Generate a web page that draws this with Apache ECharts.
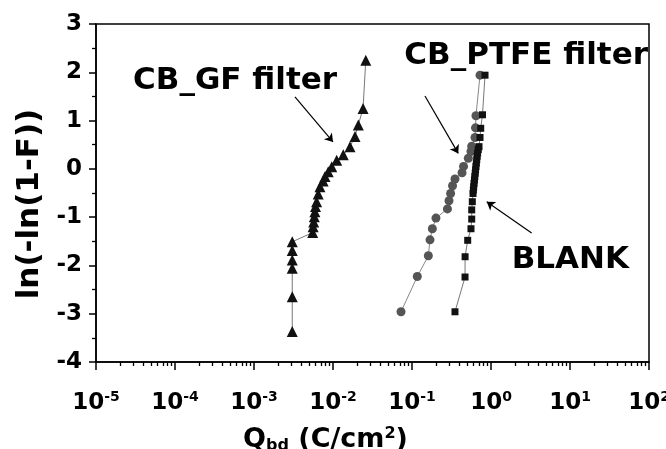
<!DOCTYPE html>
<html>
<head>
<meta charset="utf-8">
<script src="https://cdn.jsdelivr.net/npm/echarts@6/dist/echarts.min.js"></script>
<style>html,body{margin:0;padding:0;background:#fff}#c{width:666px;height:449px}</style>
</head>
<body>
<div id="c"></div>
<script>
// ---- data ----
const gfX = [0.00305,0.00305,0.00305,0.00305,0.00305,0.00305,0.00553,0.0056,0.0057,0.0058,0.0059,0.006,0.0062,0.0065,0.00684,0.0075,0.00792,0.0087,0.00964,0.01114,0.01349,0.0164,0.019,0.0209,0.024,0.026];
const gfY = [-3.37,-2.65,-2.06,-1.89,-1.69,-1.51,-1.32,-1.20,-1.10,-0.99,-0.89,-0.78,-0.68,-0.52,-0.37,-0.25,-0.16,-0.06,0.045,0.18,0.29,0.46,0.67,0.91,1.25,2.25];

const ptfeX = [0.0726,0.1167,0.161,0.169,0.181,0.201,0.281,0.294,0.308,0.326,0.35,0.43,0.449,0.516,0.558,0.57,0.627,0.636,0.645,0.726];
const ptfeY = [-2.96,-2.23,-1.80,-1.47,-1.24,-1.02,-0.83,-0.66,-0.51,-0.35,-0.21,-0.08,0.05,0.22,0.36,0.47,0.65,0.85,1.10,1.94];

const blankX = [0.35,0.469,0.47,0.507,0.558,0.57,0.57,0.58,0.592,0.598,0.604,0.61,0.617,0.624,0.631,0.638,0.645,0.652,0.66,0.668,0.677,0.69,0.705,0.726,0.741,0.78,0.84];
const blankY = [-2.96,-2.24,-1.82,-1.48,-1.24,-1.04,-0.85,-0.68,-0.51,-0.44,-0.37,-0.30,-0.23,-0.16,-0.09,-0.02,0.05,0.12,0.19,0.26,0.33,0.40,0.46,0.65,0.84,1.12,1.94];

const yTicks = [-4,-3,-2,-1,0,1,2,3];
const xDecades = [-5,-4,-3,-2,-1,0,1,2];

// annotations (data coordinates)
const labelGF = {text:'CB_GF filter', at:[0.01125,1.82], align:'right'};
const labelPTFE = {text:'CB_PTFE filter', at:[0.08,2.34], align:'left'};
const labelBLANK = {text:'BLANK', at:[1.83,-1.88], align:'left'};
const arrowGF = [[0.0033,1.49],[0.0100,0.557]];
const arrowPTFE = [[0.146,1.51],[0.385,0.32]];
const arrowBLANK = [[3.27,-1.33],[0.883,-0.68]];

// ---- build ----
const zip = (a,b) => a.map((v,i)=>[v,b[i]]);
const minorVals = [];
for (let d = -5; d < 2; d++) for (let m = 2; m <= 9; m++) minorVals.push(m*Math.pow(10,d));

const FONT = '"DejaVu Sans", sans-serif';
const arrowLine = (seg) => ({
  silent: true, symbol: ['none','arrow'], symbolSize: 8,
  lineStyle: {color:'#000', width:1.2, type:'solid'}, label:{show:false},
  data: [[{coord: seg[0]}, {coord: seg[1]}]]
});

const chart = echarts.init(document.getElementById('c'));
chart.setOption({
  animation: false,
  backgroundColor: '#fff',
  grid: {left:96, right:17, top:24, bottom:87, show:true, borderColor:'#000', borderWidth:1.5,
    containLabel:false, outerBoundsMode:'none'},
  xAxis: [{
    type:'log', logBase:10, min:1e-5, max:100, interval:1,
    axisLine:{onZero:false, lineStyle:{color:'#000', width:1.5}},
    axisTick:{show:true, inside:false, length:8, lineStyle:{width:1.5, color:'#000'}},
    splitLine:{show:false},
    axisLabel:{
      margin:28, color:'#000',
      formatter: v => '{b|10}{s|' + Math.round(Math.log10(v)) + '}',
      rich:{
        b:{fontSize:23, fontWeight:'bold', fontFamily:FONT, color:'#000'},
        s:{fontSize:14, fontWeight:'bold', fontFamily:FONT, color:'#000', verticalAlign:'top', padding:[0,0,12,0]}
      }
    },
    name:'{q|Q}{sub|bd}{q| (C/cm}{sup|2}{q|)}',
    nameLocation:'middle', nameGap:64,
    nameTextStyle:{
      padding:[0,94,0,0],
      rich:{
        q:{fontSize:27, fontWeight:'bold', fontFamily:FONT, color:'#000'},
        sub:{fontSize:16, fontWeight:'bold', fontFamily:FONT, color:'#000', padding:[12,0,0,0]},
        sup:{fontSize:16, fontWeight:'bold', fontFamily:FONT, color:'#000', padding:[0,0,12,0]}
      }
    }
  },{
    type:'log', logBase:10, min:1e-5, max:100, gridIndex:0, position:'bottom',
    axisLine:{show:false, onZero:false},
    axisTick:{show:true, inside:false, length:4, lineStyle:{width:1.3,color:'#000'}, customValues: minorVals},
    axisLabel:{show:false}, splitLine:{show:false}
  }],
  yAxis: {
    type:'value', min:-4, max:3, interval:1,
    axisLine:{show:true, lineStyle:{color:'#000', width:1.5}},
    axisTick:{show:true, inside:false, length:7, lineStyle:{width:1.5}},
    minorTick:{show:true, splitNumber:2, length:4, lineStyle:{color:'#000', width:1.3}},
    splitLine:{show:false},
    axisLabel:{margin:14, color:'#000', fontSize:23, fontWeight:'bold', fontFamily:FONT,
      customValues: yTicks},
    name:'ln(-ln(1-F))', nameLocation:'middle', nameGap:51, nameRotate:90,
    nameTextStyle:{fontSize:31, fontWeight:'bold', fontFamily:FONT, color:'#000', padding:[0,22,0,0]}
  },
  series: [
    {type:'line', name:'CB_GF filter', data: zip(gfX,gfY), symbol:'triangle', symbolSize:11,
      itemStyle:{color:'#111'}, lineStyle:{color:'#777', width:1}, markLine: arrowLine(arrowGF), z:3},
    {type:'line', name:'CB_PTFE filter', data: zip(ptfeX,ptfeY), symbol:'circle', symbolSize:9,
      itemStyle:{color:'#555'}, lineStyle:{color:'#888', width:1}, markLine: arrowLine(arrowPTFE), z:2},
    {type:'line', name:'BLANK', data: zip(blankX,blankY), symbol:'rect', symbolSize:7,
      itemStyle:{color:'#111'}, lineStyle:{color:'#777', width:1}, markLine: arrowLine(arrowBLANK), z:3}
  ]
});

const labels = [labelGF, labelPTFE, labelBLANK];
chart.setOption({
  graphic: labels.map(l => {
    const p = chart.convertToPixel({gridIndex:0}, l.at);
    return {type:'text', x:p[0], y:p[1], silent:true, z:10,
      style:{text:l.text, fill:'#000', font:'bold 31px ' + FONT, align:l.align, verticalAlign:'middle'}};
  })
});
</script>
</body>
</html>
